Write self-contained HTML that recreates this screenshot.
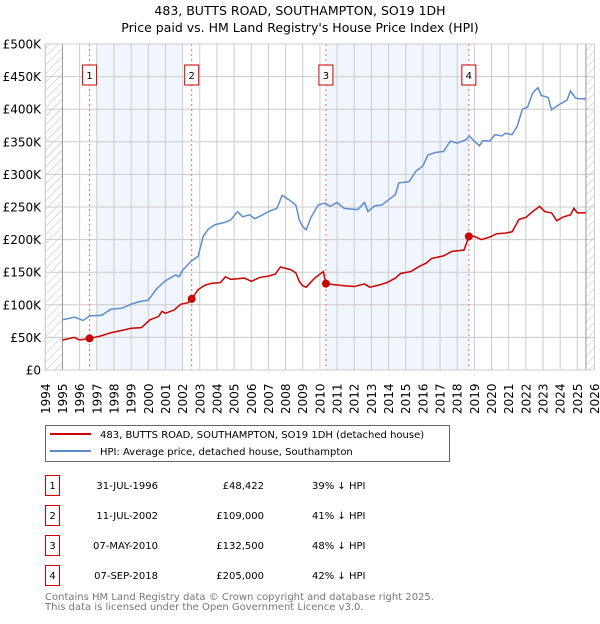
<!DOCTYPE html>
<html><head><meta charset="utf-8"><style>
body{margin:0;background:#fff;width:600px;height:620px;overflow:hidden;font-family:"DejaVu Sans","Liberation Sans",sans-serif;}
svg text{font-family:"DejaVu Sans","Liberation Sans",sans-serif;}
</style></head><body>
<svg id="chart" width="600" height="620" viewBox="0 0 600 620" xmlns="http://www.w3.org/2000/svg">
<defs><pattern id="hatch" patternUnits="userSpaceOnUse" width="6" height="6" patternTransform="rotate(45)"><line x1="0" y1="0" x2="0" y2="6" stroke="#bbb" stroke-width="1"/></pattern></defs>
<text x="300" y="15" text-anchor="middle" font-size="12.5">483, BUTTS ROAD, SOUTHAMPTON, SO19 1DH</text>
<text x="300" y="32" text-anchor="middle" font-size="12.5">Price paid vs. HM Land Registry's House Price Index (HPI)</text>
<g id="plot"></g>
<g>
<rect x="45.5" y="425.5" width="404" height="36" fill="#fff" stroke="#666"/>
<line x1="50" y1="434" x2="91" y2="434" stroke="#cc0000" stroke-width="2"/>
<text x="100" y="438" font-size="10">483, BUTTS ROAD, SOUTHAMPTON, SO19 1DH (detached house)</text>
<line x1="50" y1="451" x2="91" y2="451" stroke="#5b8dd0" stroke-width="2"/>
<text x="100" y="455" font-size="10">HPI: Average price, detached house, Southampton</text>
</g>
<g id="table" font-size="10"></g>
<text x="45" y="600" font-size="10" fill="#777">Contains HM Land Registry data © Crown copyright and database right 2025.</text>
<text x="45" y="610" font-size="10" fill="#777">This data is licensed under the Open Government Licence v3.0.</text>
</svg>
<script>
const hpiYears=[1995,1995.7,1996.2,1996.6,1997.3,1997.8,1998.5,1999,1999.5,2000,2000.5,2001,2001.6,2001.8,2002,2002.5,2002.9,2003.2,2003.5,2003.9,2004.4,2004.8,2005.2,2005.5,2005.9,2006.2,2006.6,2007,2007.5,2007.8,2008.2,2008.6,2008.8,2009.0,2009.2,2009.5,2009.9,2010.3,2010.6,2011.0,2011.4,2011.8,2012.2,2012.6,2012.8,2013.2,2013.6,2014,2014.4,2014.6,2015.2,2015.6,2016,2016.3,2016.8,2017.2,2017.6,2018,2018.5,2018.7,2019,2019.3,2019.5,2019.9,2020.2,2020.6,2020.8,2021.2,2021.5,2021.8,2022.1,2022.4,2022.7,2022.9,2023.3,2023.5,2023.7,2024,2024.4,2024.6,2024.9,2025.1,2025.5];
const hpiValues=[77,81,76,83,84,93,95,101,105,107,125,137,146,143,153,167,174,205,216,223,226,230,243,235,238,232,237,243,248,268,261,253,230,220,215,235,253,256,251,257,248,247,246,257,243,252,253,261,269,287,289,305,313,330,334,335,351,348,353,359,351,344,352,351,361,359,363,361,374,400,403,425,433,421,418,399,403,408,414,428,417,416,416];
const ppYears=[1995,1995.7,1996,1996.58,1997.2,1997.8,1998.5,1999,1999.6,2000.1,2000.6,2000.8,2001.0,2001.5,2001.9,2002.3,2002.53,2002.9,2003.3,2003.7,2004.2,2004.5,2004.8,2005.6,2006,2006.5,2007,2007.4,2007.7,2008.3,2008.6,2008.8,2009,2009.2,2009.7,2010.2,2010.35,2010.8,2011.5,2012,2012.6,2012.9,2013.4,2013.9,2014.4,2014.7,2015.3,2015.8,2016.2,2016.5,2017.2,2017.7,2018.4,2018.68,2019.0,2019.4,2019.9,2020.3,2020.8,2021.2,2021.6,2022,2022.4,2022.8,2023.1,2023.5,2023.8,2024.2,2024.6,2024.8,2025.0,2025.5];
const ppValues=[46,50,46,48.4,52,57,61,64,65,77,82,90,87,92,101,103,109,123,130,133,134,143,139,141,136,142,144,147,158,154,149,136,129,127,141,151,132.5,131,129,128,132,127,130,134,141,148,151,159,164,171,175,182,184,205,205,200,204,209,210,212,231,234,243,251,243,241,229,235,238,248,241,241];
const saleLabels=["1","2","3","4"];
const saleYears=[1996.58,2002.53,2010.35,2018.68];
const saleValues=[48.422,109,132.5,205];
const saleDates=["31-JUL-1996","11-JUL-2002","07-MAY-2010","07-SEP-2018"];
const salePrices=["£48,422","£109,000","£132,500","£205,000"];
const saleDiffs=["39% ↓ HPI","41% ↓ HPI","48% ↓ HPI","42% ↓ HPI"];
const shadeStart=[1997,2010.35];
const shadeEnd=[2002,2018.68];
const yTicks=[0,50,100,150,200,250,300,350,400,450,500];
const yTickLabels=["£0","£50K","£100K","£150K","£200K","£250K","£300K","£350K","£400K","£450K","£500K"];
const xTicks=[1994,1995,1996,1997,1998,1999,2000,2001,2002,2003,2004,2005,2006,2007,2008,2009,2010,2011,2012,2013,2014,2015,2016,2017,2018,2019,2020,2021,2022,2023,2024,2025,2026];

const NS="http://www.w3.org/2000/svg";
const X0=45.3,X1=594.5,Y0=370,Y1=44;
const xs=y=>X0+(y-1994)/(2026-1994)*(X1-X0);
const ys=v=>Y0-v/500*(Y0-Y1);
const plot=document.getElementById('plot');
function mk(tag,attrs,parent){const e=document.createElementNS(NS,tag);for(const k in attrs)e.setAttribute(k,attrs[k]);(parent||plot).appendChild(e);return e;}

mk('rect',{x:X0,y:Y1,width:X1-X0,height:Y0-Y1,fill:'#fff'});
shadeStart.forEach((s,i)=>{const r=mk('rect',{x:xs(s),y:Y1,width:xs(shadeEnd[i])-xs(s),height:Y0-Y1,fill:'#eef3fc',opacity:0.8});

});
const hl=mk('rect',{x:X0,y:Y1,width:xs(1995)-X0,height:Y0-Y1,fill:'url(#hatch)'});


const hr=mk('rect',{x:xs(2025.5),y:Y1,width:X1-xs(2025.5),height:Y0-Y1,fill:'url(#hatch)'});


yTicks.forEach((t,i)=>{
  const gl=mk('line',{x1:X0,x2:X1,y1:ys(t),y2:ys(t),stroke:'#ccc','stroke-width':1});
  
  
  const tx=mk('text',{x:41,y:ys(t)+4.5,'text-anchor':'end','font-size':12});
  tx.textContent=yTickLabels[i];
  
  
});
xTicks.forEach(t=>{
  const gl=mk('line',{x1:xs(t),x2:xs(t),y1:Y1,y2:Y0,stroke:'#ccc','stroke-width':1});
  
  
  const tx=mk('text',{x:0,y:0,'font-size':12,transform:`translate(${xs(t)+4.5},414) rotate(-90)`});
  tx.textContent=t;
  
  
});
const lb=mk('line',{x1:xs(1995),x2:xs(1995),y1:Y1,y2:Y0,stroke:'#999'});


const rb=mk('line',{x1:xs(2025.5),x2:xs(2025.5),y1:Y1,y2:Y0,stroke:'#999'});


saleYears.forEach(s=>{const l=mk('line',{x1:xs(s),x2:xs(s),y1:Y1,y2:Y0,stroke:'#e66','stroke-width':1,'stroke-dasharray':'2,3'});

});
const hp=mk('polyline',{points:hpiYears.map((y,i)=>xs(y)+','+ys(hpiValues[i])).join(' '),fill:'none',stroke:'#5b8dd0','stroke-width':1.5});


const pp=mk('polyline',{points:ppYears.map((y,i)=>xs(y)+','+ys(ppValues[i])).join(' '),fill:'none',stroke:'#cc0000','stroke-width':1.5});


saleYears.forEach((s,i)=>{
  const c=mk('circle',{cx:xs(s),cy:ys(saleValues[i]),r:4,fill:'#cc0000'});
  
  
  const b=mk('rect',{x:xs(s)-7,y:65,width:14,height:20,fill:'#fff',stroke:'#cc0000'});
  
  
  const t=mk('text',{x:xs(s),y:79,'text-anchor':'middle','font-size':10});
  t.textContent=saleLabels[i];
  
  
});
const fr=mk('rect',{x:X0,y:Y1,width:X1-X0,height:Y0-Y1,fill:'none',stroke:'#ccc'});



const tb=document.getElementById('table');
saleLabels.forEach((l,i)=>{
  const y=475+i*30;
  const row=mk('g',{},tb);
  
  
  mk('rect',{x:45.5,y:y+0.5,width:14,height:20,fill:'#fff',stroke:'#cc0000'},row);
  mk('text',{x:52.5,y:y+14,'text-anchor':'middle'},row).textContent=l;
  mk('text',{x:158,y:y+14,'text-anchor':'end'},row).textContent=saleDates[i];
  mk('text',{x:264,y:y+14,'text-anchor':'end'},row).textContent=salePrices[i];
  mk('text',{x:312,y:y+14},row).textContent=saleDiffs[i];
});
</script>
</body></html>
